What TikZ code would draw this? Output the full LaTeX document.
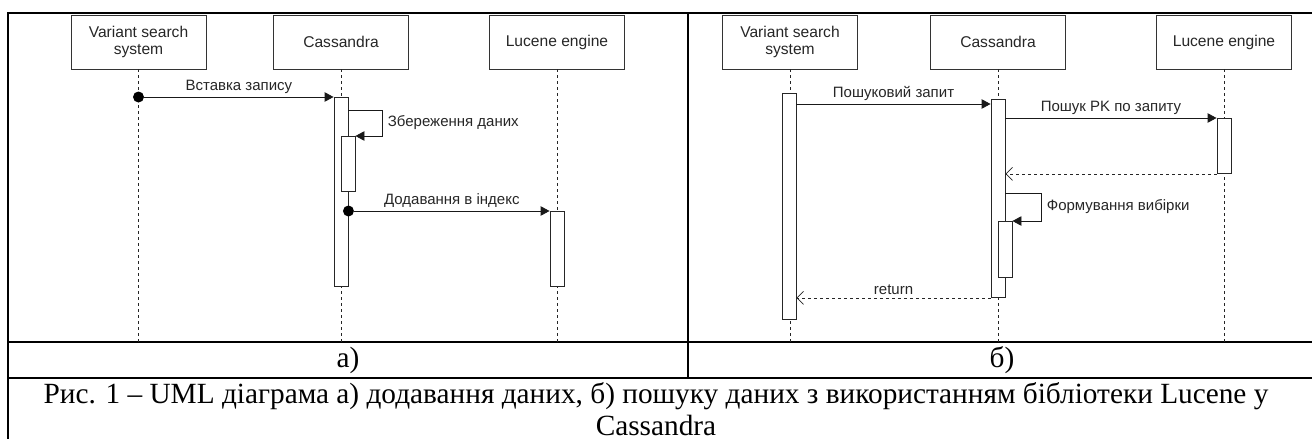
\documentclass[tikz,border=0pt]{standalone}
\usepackage{fontspec}
\setmainfont{Liberation Serif}
\setsansfont{Liberation Sans}
\usetikzlibrary{positioning, arrows.meta, calc}

\begin{document}
\begin{tikzpicture}[
  x=1pt, y=-1pt,
  head/.style={draw=black!80, line width=0.9pt, minimum width=135pt, minimum height=54pt,
               align=center, font=\sffamily\fontsize{15.6}{17.5}\selectfont, text=black!85, inner sep=2pt},
  act/.style={draw=black!85, fill=white, line width=0.9pt, minimum width=14pt, inner sep=0pt},
  life/.style={dash pattern=on 3pt off 3pt, line width=0.9pt, color=black!85},
  msg/.style={-{Triangle[length=9pt, width=9.5pt]}, line width=0.9pt, color=black!90},
  ret/.style={-{Straight Barb[length=6.5pt, width=13pt]}, dash pattern=on 3pt off 3pt, line width=0.8pt, color=black!85},
  dot/.style={circle, fill=black, inner sep=0pt, minimum size=11pt},
  lbl/.style={font=\sffamily\fontsize{15}{16.5}\selectfont, text=black!85, inner sep=1pt},
  tbl/.style={line width=1.8pt},
  cell/.style={font=\fontsize{29.3}{32}\selectfont, inner sep=0pt},
]
\useasboundingbox (0,0) rectangle (1312,439);

% table frame
\draw[tbl] (8,439) -- (8,13) -- (1316,13) -- (1316,439);
\draw[tbl] (8,342) -- (1316,342);
\draw[tbl] (8,378) -- (1316,378);
\draw[tbl] (688,13) -- (688,378);
\coordinate (bot) at (0,342);

% a) lifeline heads
\node[head] (vssA) at (138.5,42) {Variant search\\system};
\node[head] (casA) at (341,42) {Cassandra};
\node[head] (lucA) at (557,42) {Lucene engine};

% b) lifeline heads
\node[head] (vssB) at (790,42) {Variant search\\system};
\node[head] (casB) at (998,42) {Cassandra};
\node[head] (lucB) at (1224,42) {Lucene engine};

% lifelines
\foreach \n in {vssA,casA,lucA,vssB,casB,lucB}
  \draw[life] (\n.south) -- (\n.south |- bot);

% a) activations
\node[act, minimum height=189pt, anchor=north] (actA1) at (341,97) {};
\node[act, minimum height=55pt, anchor=north] (actA2) at (348,136) {};
\node[act, minimum height=75pt, anchor=north] (actA3) at (557,211) {};

% a) messages
\node[dot] (dotA1) at (vssA.south |- actA1.north) {};
\draw[msg] (dotA1) -- node[lbl, above=2pt] {Вставка запису} (actA1.north west);
\draw[msg] ([yshift=-13pt]actA1.north east) -- ++(34,0) |- (actA2.north east)
  node[lbl, pos=0.25, right=4pt] {Збереження даних};
\node[dot] (dotA2) at (actA1.east |- actA3.north) {};
\draw[msg] (dotA2) -- node[lbl, above=2pt] {Додавання в індекс} (actA3.north west);

% b) activations
\node[act, minimum height=226pt, anchor=north] (actB1) at (789,93) {};
\node[act, minimum height=198pt, anchor=north] (actB2) at (998,99) {};
\node[act, minimum height=55pt, anchor=north] (actB3) at (1224,118) {};
\node[act, minimum height=56pt, anchor=north] (actB4) at (1005,221) {};

% b) messages
\coordinate (q1) at ([yshift=-11pt]actB1.north east);
\draw[msg] (q1) -- node[lbl, above=2pt] {Пошуковий запит} (q1 -| actB2.west);
\draw[msg] (actB2.east |- actB3.north) -- node[lbl, above=2pt] {Пошук PK по запиту} (actB3.north west);
\draw[ret] (actB3.south west) -- (actB3.south west -| actB2.east);
\draw[msg] ([yshift=-94pt]actB2.north east) -- ++(36,0) |- (actB4.north east)
  node[lbl, pos=0.25, right=4pt] {Формування вибірки};
\draw[ret] (actB2.south west) -- node[lbl, above=2pt] {return} (actB2.south west -| actB1.east);

% cell captions
\node[cell] (capA) at (348,360) {а)};
\node[cell] (capB) at (1002,360) {б)};
\node[cell, align=center, anchor=north] (caption) at (656,382)
  {Рис. 1 – UML діаграма а) додавання даних, б) пошуку даних з використанням бібліотеки Lucene у\\Cassandra};
\end{tikzpicture}
\end{document}
